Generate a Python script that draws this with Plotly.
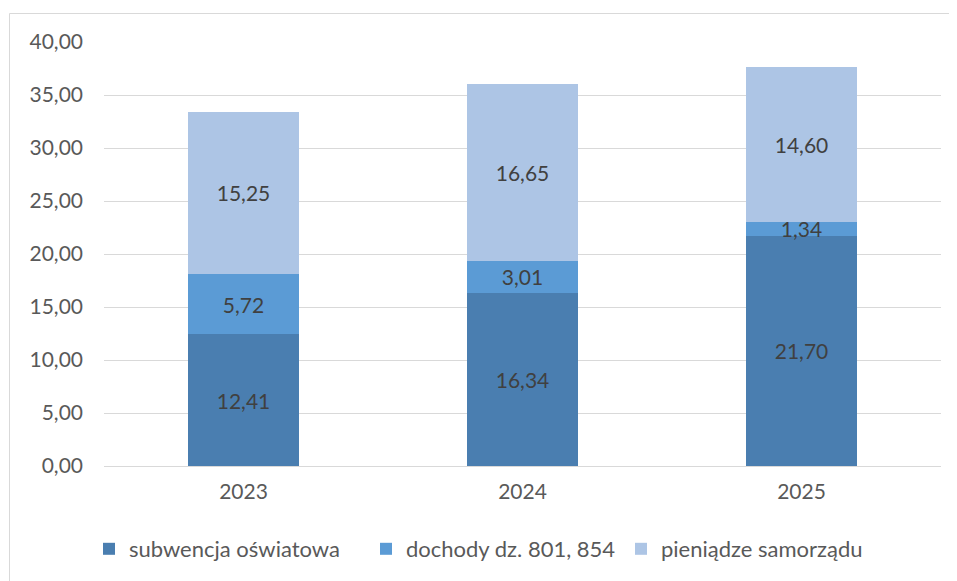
import plotly.graph_objects as go

years = ["2023", "2024", "2025"]
subwencja = [12.41, 16.34, 21.70]
dochody = [5.72, 3.01, 1.34]
pieniadze = [15.25, 16.65, 14.60]
series_names = ["subwencja oświatowa", "dochody dz. 801, 854", "pieniądze samorządu"]
colors = ["#4A7EB0", "#5B9BD5", "#ADC5E5"]
y_ticks = [0, 5, 10, 15, 20, 25, 30, 35, 40]

FONT = "Lato"
OFF = 8  # page body offset
L, T, PW, PH = 104 - OFF, 42 - OFF, 837, 424
W, H = 957, 581

legend_ids = ["legend", "legend2", "legend3"]
legend_left_px = [89, 366, 621]  # window x of each legend box

fig = go.Figure()
for name, vals, col, lid in zip(series_names, [subwencja, dochody, pieniadze], colors, legend_ids):
    fig.add_trace(go.Bar(
        x=years, y=vals, name=name, marker=dict(color=col, line=dict(width=0)),
        texttemplate="%{y:.2f}", textposition="inside", insidetextanchor="middle",
        textfont=dict(family=FONT, size=21, color="#404040"),
        constraintext="none", cliponaxis=False, legend=lid, showlegend=True,
    ))

legend_layout = {}
for lid, lx in zip(legend_ids, legend_left_px):
    legend_layout[lid] = dict(
        orientation="h", x=(lx - 104) / PW, xanchor="left", y=-83 / PH, yanchor="middle",
        font=dict(size=22, color="#595959"), itemwidth=30, bgcolor="rgba(0,0,0,0)",
        visible=True,
    )

fig.update_layout(
    barmode="stack", bargap=0.6,
    width=W, height=H,
    showlegend=True,
    margin=dict(l=L, r=W - L - PW, t=T, b=H - T - PH),
    paper_bgcolor="white", plot_bgcolor="white",
    separators=", ",
    font=dict(family=FONT, size=21, color="#595959"),
    uniformtext=dict(minsize=21, mode="show"),
    xaxis=dict(showgrid=False, showline=False, ticks="", ticklabelstandoff=11,
               tickfont=dict(size=21, color="#595959")),
    yaxis=dict(range=[0, 40], tickvals=y_ticks, tickformat=".2f",
               showgrid=True, gridcolor="#D9D9D9", gridwidth=1,
               zeroline=True, zerolinecolor="#D9D9D9", zerolinewidth=1,
               showline=False, ticks="", ticklabelstandoff=20,
               tickfont=dict(size=21, color="#595959")),
    shapes=[dict(type="rect", xref="paper", yref="paper",
                 x0=(9.5 - 104) / PW, x1=1 + (975 - 941) / PW,
                 y0=-(600 - 466) / PH, y1=1 + (42 - 13.5) / PH,
                 line=dict(color="#D9D9D9", width=1), layer="below")],
    **legend_layout,
)

fig.write_html("out.html")
